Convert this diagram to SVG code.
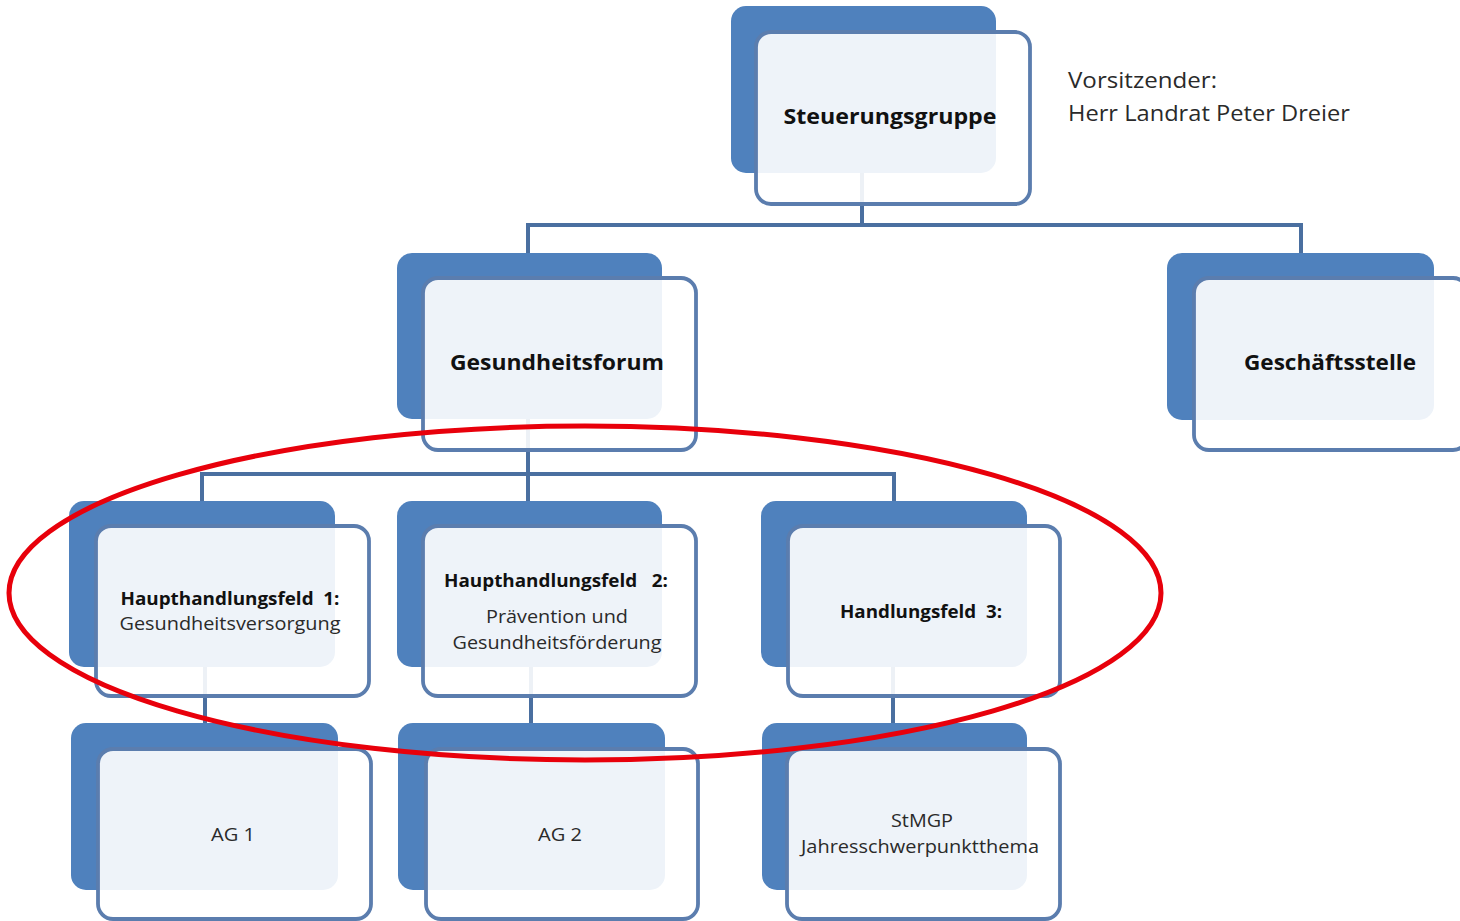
<svg xmlns="http://www.w3.org/2000/svg" width="1460" height="921" viewBox="0 0 1460 921">
<style>
.back{fill:#4F81BD;}
.front{fill:#FFFFFF;fill-opacity:0.9;stroke:#5B7DAE;stroke-width:3.8;}
.conn{stroke:#4A6FA0;stroke-width:4;fill:none;}
.b{font-family:"Open Sans","DejaVu Sans",sans-serif;font-weight:bold;fill:#111111;text-anchor:middle;white-space:pre;}
.r{font-family:"Open Sans","DejaVu Sans",sans-serif;fill:#2a2a2a;text-anchor:middle;white-space:pre;}
.l{font-family:"Open Sans","DejaVu Sans",sans-serif;fill:#2a2a2a;}
</style>
<rect width="1460" height="921" fill="#FFFFFF"/>
<g id="connectors">
<path class="conn" d="M862 150 V225 M528 225 H1301 M528 223 V253 M1301 223 V253"/>
<path class="conn" d="M528 400 V474 M202 474 H894 M202 472 V501 M528 472 V501 M894 472 V501"/>
<path class="conn" d="M205 650 V723 M531 650 V723 M893 650 V723"/>
</g>
<g id="steuerungsgruppe">
<rect class="back" x="731" y="6" width="265" height="167" rx="15"/>
<rect class="front" x="756" y="32" width="274" height="172" rx="15"/>
<text class="b" x="890" y="124" font-size="21.5" textLength="213" lengthAdjust="spacingAndGlyphs">Steuerungsgruppe</text>
</g>
<g id="vorsitz">
<text class="l" x="1068" y="88" font-size="22" textLength="149" lengthAdjust="spacingAndGlyphs">Vorsitzender:</text>
<text class="l" x="1068" y="121" font-size="22" textLength="282" lengthAdjust="spacingAndGlyphs">Herr Landrat Peter Dreier</text>
</g>
<g id="gesundheitsforum">
<rect class="back" x="397" y="253" width="265" height="166" rx="15"/>
<rect class="front" x="423" y="278" width="273" height="172" rx="15"/>
<text class="b" x="557" y="370" font-size="21.5" textLength="214" lengthAdjust="spacingAndGlyphs">Gesundheitsforum</text>
</g>
<g id="geschaeftsstelle">
<rect class="back" x="1167" y="253" width="267" height="167" rx="15"/>
<rect class="front" x="1194" y="278" width="274" height="172" rx="15"/>
<text class="b" x="1330" y="370" font-size="21.5" textLength="172" lengthAdjust="spacingAndGlyphs">Geschäftsstelle</text>
</g>
<g id="hf1">
<rect class="back" x="69" y="501" width="266" height="166" rx="15"/>
<rect class="front" x="96" y="526" width="273" height="170" rx="15"/>
<text class="b" x="230" y="605" font-size="17.5" textLength="219" lengthAdjust="spacingAndGlyphs">Haupthandlungsfeld  1:</text>
<text class="r" x="230" y="630" font-size="17.5" textLength="221" lengthAdjust="spacingAndGlyphs">Gesundheitsversorgung</text>
</g>
<g id="hf2">
<rect class="back" x="397" y="501" width="265" height="166" rx="15"/>
<rect class="front" x="423" y="526" width="273" height="170" rx="15"/>
<text class="b" x="556" y="587" font-size="17.5" textLength="224" lengthAdjust="spacingAndGlyphs">Haupthandlungsfeld   2:</text>
<text class="r" x="557" y="623" font-size="17.5" textLength="142" lengthAdjust="spacingAndGlyphs">Prävention und</text>
<text class="r" x="557" y="649" font-size="17.5" textLength="209" lengthAdjust="spacingAndGlyphs">Gesundheitsförderung</text>
</g>
<g id="hf3">
<rect class="back" x="761" y="501" width="266" height="166" rx="15"/>
<rect class="front" x="788" y="526" width="272" height="170" rx="15"/>
<text class="b" x="921" y="618" font-size="17.5" textLength="162" lengthAdjust="spacingAndGlyphs">Handlungsfeld  3:</text>
</g>
<g id="ag1">
<rect class="back" x="71" y="723" width="267" height="167" rx="15"/>
<rect class="front" x="98" y="749" width="273" height="170" rx="15"/>
<text class="r" x="233" y="841" font-size="17.5" textLength="44" lengthAdjust="spacingAndGlyphs">AG 1</text>
</g>
<g id="ag2">
<rect class="back" x="398" y="723" width="267" height="167" rx="15"/>
<rect class="front" x="426" y="749" width="272" height="170" rx="15"/>
<text class="r" x="560" y="841" font-size="17.5" textLength="44" lengthAdjust="spacingAndGlyphs">AG 2</text>
</g>
<g id="stmgp">
<rect class="back" x="762" y="723" width="265" height="167" rx="15"/>
<rect class="front" x="787" y="749" width="273" height="170" rx="15"/>
<text class="r" x="922" y="827" font-size="17.5" textLength="62" lengthAdjust="spacingAndGlyphs">StMGP</text>
<text class="r" x="920" y="853" font-size="17.5" textLength="238" lengthAdjust="spacingAndGlyphs">Jahresschwerpunktthema</text>
</g>
<ellipse cx="585" cy="593" rx="576" ry="167" fill="none" stroke="#E8000B" stroke-width="5"/>
</svg>
